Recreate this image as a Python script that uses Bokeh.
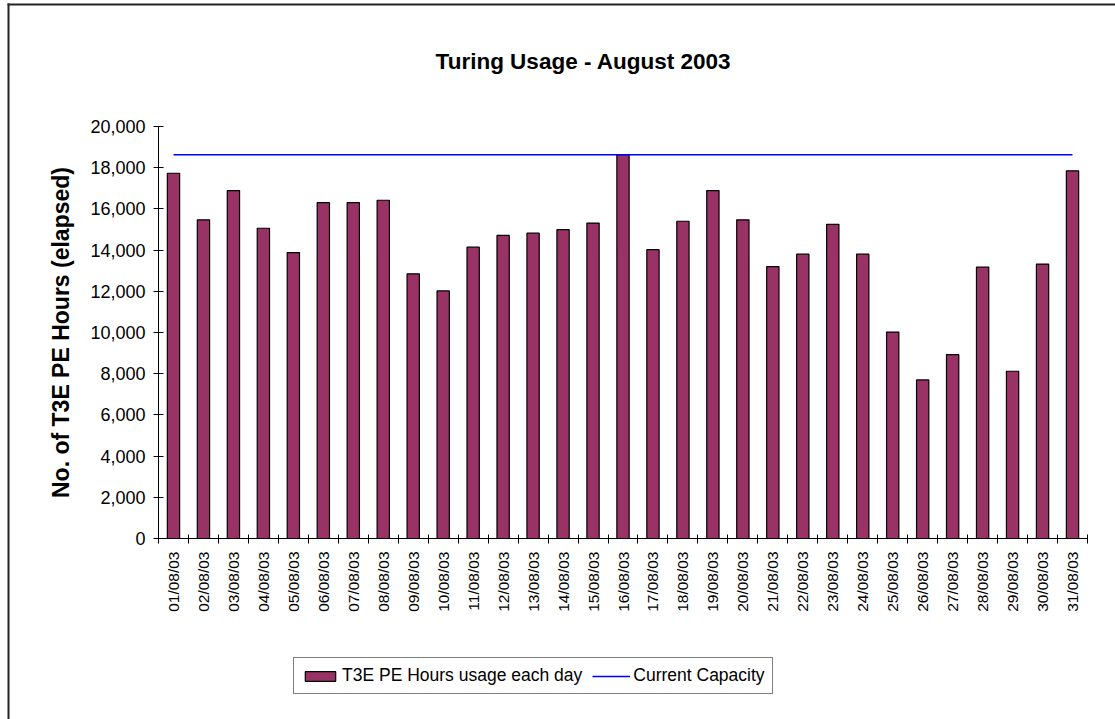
import math
from bokeh.plotting import figure
from bokeh.models import (Range1d, FixedTicker, NumeralTickFormatter, Legend, LegendItem,
                          Label, BoxAnnotation, ColumnDataSource)
from bokeh.embed import file_html
from bokeh.resources import INLINE

# Daily T3E PE hours used on Turing, August 2003
dates = ["01/08/03", "02/08/03", "03/08/03", "04/08/03", "05/08/03", "06/08/03",
         "07/08/03", "08/08/03", "09/08/03", "10/08/03", "11/08/03", "12/08/03",
         "13/08/03", "14/08/03", "15/08/03", "16/08/03", "17/08/03", "18/08/03",
         "19/08/03", "20/08/03", "21/08/03", "22/08/03", "23/08/03", "24/08/03",
         "25/08/03", "26/08/03", "27/08/03", "28/08/03", "29/08/03", "30/08/03",
         "31/08/03"]
usage = [17730, 15470, 16890, 15060, 13880, 16300, 16300, 16420, 12850, 12020,
         14140, 14710, 14820, 14990, 15310, 18630, 14020, 15400, 16890, 15470,
         13200, 13800, 15250, 13800, 10020, 7700, 8930, 13170, 8120, 13320, 17850]
capacity = 18630
y_ticks = [0, 2000, 4000, 6000, 8000, 10000, 12000, 14000, 16000, 18000, 20000]
Y_MAX = 20000

FONT = "Liberation Sans"
W, H = 1115, 719
# plot-area box on the page (pixels); the axes are pinned to its edges
AREA_L, AREA_R, AREA_T, AREA_B = 158, 1087, 126, 538

n = len(dates)
days = list(range(1, n + 1))
src = ColumnDataSource(dict(day=days, usage=usage, cap=[capacity] * n))

# extend the data ranges so the plot area sits inside a full-page frame
x_per_px = n / (AREA_R - AREA_L)
y_per_px = Y_MAX / (AREA_B - AREA_T)
x_range = Range1d(0.5 - AREA_L * x_per_px, n + 0.5 + (W - AREA_R) * x_per_px)
y_range = Range1d(-(H - AREA_B) * y_per_px, Y_MAX + AREA_T * y_per_px)

p = figure(width=W, height=H, output_backend="svg", toolbar_location=None,
           title=None, x_range=x_range, y_range=y_range,
           min_border_left=0, min_border_right=0, min_border_top=0,
           min_border_bottom=0, background_fill_color="white",
           border_fill_color="white", outline_line_color=None)
p.grid.visible = False

bars = p.vbar(x="day", top="usage", width=0.41, source=src,
              fill_color="#993366", line_color="black", line_width=1.2)
cap_line = p.line(x="day", y="cap", source=src, line_color="#0000FF", line_width=1.5)

# x axis: date labels at bar centres, tick marks between categories
xa = p.xaxis[0]
xa.fixed_location = 0
xa.bounds = (0.5, n + 0.5)
xa.ticker = FixedTicker(ticks=days, minor_ticks=[d + 0.5 for d in [0] + days])
xa.major_label_overrides = {d: lab for d, lab in zip(days, dates)}
xa.major_label_orientation = math.pi / 2
xa.major_tick_line_color = None
xa.minor_tick_line_color = "black"
xa.minor_tick_in = 4
xa.minor_tick_out = 5
xa.major_label_standoff = 7
xa.major_label_text_font = FONT
xa.major_label_text_font_size = "15.5px"
xa.major_label_text_color = "black"
xa.axis_line_color = "black"

ya = p.yaxis[0]
ya.fixed_location = 0.5
ya.bounds = (0, Y_MAX)
ya.ticker = FixedTicker(ticks=y_ticks)
ya.formatter = NumeralTickFormatter(format="0,0")
ya.major_tick_in = 5
ya.major_tick_out = 5
ya.minor_tick_line_color = None
ya.major_label_standoff = 8
ya.major_label_text_font = FONT
ya.major_label_text_font_size = "18px"
ya.major_label_text_color = "black"
ya.axis_line_color = "black"
ya.axis_label = "No. of T3E PE Hours (elapsed)"
ya.axis_label_text_font = FONT
ya.axis_label_text_font_style = "bold"
ya.axis_label_text_font_size = "23px"
ya.axis_label_text_color = "black"
ya.axis_label_standoff = 13

title = Label(x=583, y=61, x_units="canvas", y_units="canvas",
              text="Turing Usage - August 2003", text_align="center",
              text_baseline="alphabetic", text_font=FONT, text_font_style="bold",
              text_font_size="22.5px", text_color="black")
p.add_layout(title)

legend = Legend(items=[LegendItem(label="T3E PE Hours usage each day", renderers=[bars]),
                       LegendItem(label="Current Capacity", renderers=[cap_line])],
                orientation="horizontal", location=(293, H - 694),
                border_line_color="black", border_line_width=1,
                padding=7, spacing=10, margin=0, glyph_width=38, glyph_height=12,
                label_standoff=3, label_text_font=FONT, label_text_font_size="17.5px",
                label_text_color="black", background_fill_color="white")
p.add_layout(legend, "center")

# chart-area frame: left and top rules only (the page edge cuts the rest)
rule_style = dict(left_units="canvas", right_units="canvas",
                  top_units="canvas", bottom_units="canvas",
                  fill_color="#222222", fill_alpha=1.0, line_color=None)
p.add_layout(BoxAnnotation(left=7, right=9, top=3, bottom=H, **rule_style))
p.add_layout(BoxAnnotation(left=7, right=W, top=3, bottom=5, **rule_style))

open("out.html", "w").write(file_html(p, INLINE))
